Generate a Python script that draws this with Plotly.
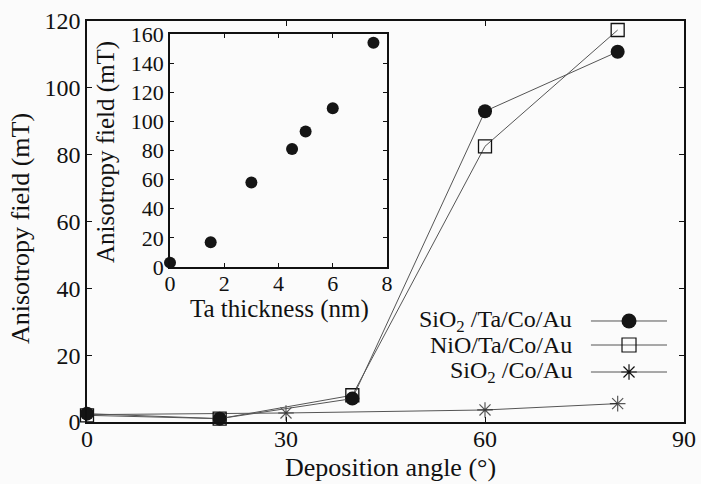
import plotly.graph_objects as go

# ---- data ----
angle_ta = [0, 20, 40, 60, 80]
sio2_ta_co_au = [2.5, 1.0, 7.0, 93.0, 110.8]
nio_ta_co_au = [2.0, 1.0, 8.0, 82.5, 117.3]
angle_co = [0, 20, 30, 60, 80]
sio2_co_au = [2.2, 2.4, 2.7, 3.6, 5.5]

ta_thickness = [0, 1.5, 3, 4.5, 5, 6, 7.5]
inset_field = [3, 17, 58, 81, 93, 109, 154]

main_xticks = [0, 30, 60, 90]
main_yticks = [0, 20, 40, 60, 80, 100, 120]
inset_xticks = [0, 2, 4, 6, 8]
inset_yticks = [0, 20, 40, 60, 80, 100, 120, 140, 160]

legend_names = ["SiO<sub>2</sub> /Ta/Co/Au", "NiO/Ta/Co/Au", "SiO<sub>2</sub> /Co/Au"]

FONT = "Liberation Serif, Times New Roman, serif"
W, H = 701, 484
BG = "#fbfbfb"
LINE = "#555555"

fig = go.Figure()

# main series (asterisks at 0 and 20 hidden behind the filled circles, as in the reference)
fig.add_trace(go.Scatter(x=angle_co, y=sio2_co_au, mode="lines+markers",
                         line=dict(color=LINE, width=1),
                         marker=dict(symbol="asterisk-open", size=[0, 0, 13, 13, 13], color="#111",
                                     line=dict(color="#111", width=1.2)),
                         cliponaxis=False, xaxis="x", yaxis="y", showlegend=False))
fig.add_trace(go.Scatter(x=angle_ta, y=nio_ta_co_au, mode="lines+markers",
                         line=dict(color=LINE, width=1),
                         marker=dict(symbol="square-open", size=13, color="#111",
                                     line=dict(color="#111", width=1.3)),
                         cliponaxis=False, xaxis="x", yaxis="y", showlegend=False))
fig.add_trace(go.Scatter(x=angle_ta, y=sio2_ta_co_au, mode="lines+markers",
                         line=dict(color=LINE, width=1),
                         marker=dict(symbol="circle", size=14, color="#151515",
                                     line=dict(width=0)),
                         cliponaxis=False, xaxis="x", yaxis="y", showlegend=False))

# inset series
fig.add_trace(go.Scatter(x=ta_thickness, y=inset_field, mode="markers",
                         marker=dict(symbol="circle", size=12, color="#151515"),
                         cliponaxis=False, xaxis="x2", yaxis="y2", showlegend=False))

# manual legend (key samples on a hidden full-page axis)
leg_rows = [0.3368, 0.2872, 0.2314]
leg_text_x = 0.8185
leg_line_x = [0.843, 0.9515]
leg_mark_x = 0.8973
symbols = [("circle", "#151515", 15, 0), ("square-open", "#111", 14, 1.2),
           ("asterisk-open", "#111", 13, 1.2)]
for yy, (sym, col, sz, lw) in zip(leg_rows, symbols):
    fig.add_trace(go.Scatter(x=leg_line_x, y=[yy, yy], mode="lines",
                             line=dict(color=LINE, width=1),
                             xaxis="x3", yaxis="y3", showlegend=False, hoverinfo="skip"))
    fig.add_trace(go.Scatter(x=[leg_mark_x], y=[yy], mode="markers",
                             marker=dict(symbol=sym, size=sz, color=col,
                                         line=dict(color=col, width=lw)),
                             xaxis="x3", yaxis="y3", showlegend=False, hoverinfo="skip"))

ann = []
for yy, name in zip(leg_rows, legend_names):
    ann.append(dict(text=name, x=leg_text_x, y=yy, xref="paper", yref="paper",
                    xanchor="right", yanchor="middle", showarrow=False,
                    font=dict(family=FONT, size=24, color="#111")))

# axis titles
ann.append(dict(text="Deposition angle (°)", x=390 / W, y=1 - 467 / H,
                xref="paper", yref="paper", xanchor="center", yanchor="middle",
                showarrow=False, font=dict(family=FONT, size=26, color="#111")))
ann.append(dict(text="Anisotropy field (mT)", x=21 / W, y=1 - 229 / H, textangle=-90,
                xref="paper", yref="paper", xanchor="center", yanchor="middle",
                showarrow=False, font=dict(family=FONT, size=26, color="#111")))
ann.append(dict(text="Ta thickness (nm)", x=279 / W, y=1 - 309 / H,
                xref="paper", yref="paper", xanchor="center", yanchor="middle",
                showarrow=False, font=dict(family=FONT, size=25, color="#111")))
ann.append(dict(text="Anisotropy field (mT)", x=106 / W, y=1 - 152 / H, textangle=-90,
                xref="paper", yref="paper", xanchor="center", yanchor="middle",
                showarrow=False, font=dict(family=FONT, size=25, color="#111")))

axis_common = dict(showline=True, linecolor="#111", linewidth=1.5, mirror="ticks",
                   ticks="inside", tickcolor="#111", tickwidth=1, showgrid=False,
                   zeroline=False, automargin=False,
                   tickfont=dict(family=FONT, size=24, color="#111"))

fig.update_layout(
    width=W, height=H,
    margin=dict(l=0, r=0, t=0, b=0),
    paper_bgcolor=BG, plot_bgcolor="rgba(0,0,0,0)",
    annotations=ann,
    xaxis=dict(domain=[87 / W, 684 / W], range=[0, 90], tickvals=main_xticks,
               ticklen=5, anchor="y", ticklabelstandoff=-6, **axis_common),
    yaxis=dict(domain=[1 - 422 / H, 1 - 21 / H], range=[0, 120], tickvals=main_yticks,
               ticklen=5, anchor="x", **axis_common),
    xaxis2=dict(domain=[170 / W, 387 / W], range=[0, 8], tickvals=inset_xticks,
                ticklen=4, anchor="y2", ticklabelstandoff=-4, **axis_common),
    yaxis2=dict(domain=[1 - 267 / H, 1 - 34 / H], range=[0, 160], tickvals=inset_yticks,
                ticklen=4, anchor="x2", **axis_common),
    xaxis3=dict(domain=[0, 1], range=[0, 1], visible=False, anchor="y3", fixedrange=True),
    yaxis3=dict(domain=[0, 1], range=[0, 1], visible=False, anchor="x3", fixedrange=True),
)
fig.update_layout(xaxis2_tickfont_size=22, yaxis2_tickfont_size=22)

fig.write_html("out.html", config={"displayModeBar": False},
               post_script="document.body.style.margin='0';document.body.style.background='" + BG + "';")
